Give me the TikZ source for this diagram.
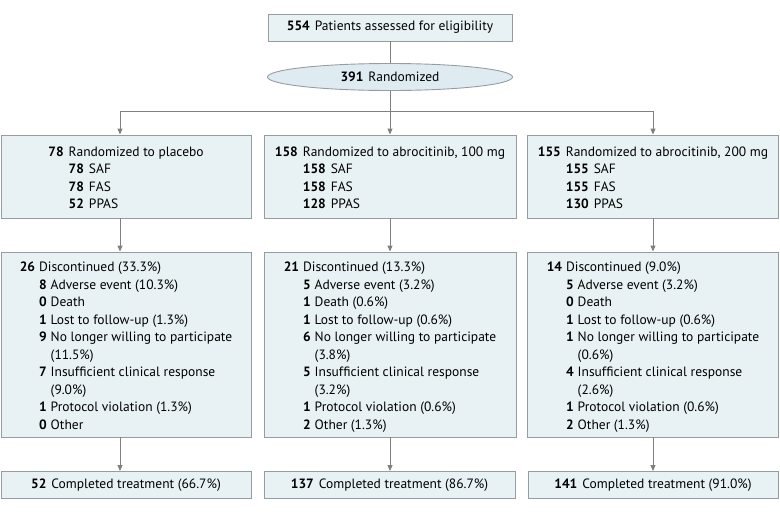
\documentclass[tikz,border=0pt]{standalone}
\usepackage{fontspec}
\setmainfont{PT Sans}
\usepackage{tikz}
\usetikzlibrary{arrows.meta,shapes.geometric,calc}
\definecolor{boxfill}{RGB}{232,242,245}
\definecolor{ovalfill}{RGB}{222,236,241}
\definecolor{boxline}{RGB}{150,157,161}
\definecolor{flowline}{RGB}{128,128,128}

\tikzset{
  box/.style={draw=boxline, fill=boxfill, inner sep=0pt, line width=0.9pt},
  oval/.style={ellipse, draw=boxline, fill=ovalfill, inner sep=0pt, line width=0.9pt},
  flow/.style={draw=flowline, line width=0.9pt, -{Triangle[length=6pt,width=5pt]}},
  link/.style={draw=flowline, line width=0.9pt}
}
% pushes a box's text a little down
\newcommand{\toprow}{\rule{0pt}{17.5pt}}

\begin{document}
\begin{tikzpicture}[x=1pt, y=-1pt, font=\fontsize{13.5}{17.5}\selectfont]
    \useasboundingbox (0,0) rectangle (780,512);

    % Screening and randomization
    \node[box, minimum width=244, minimum height=27] (screen) at (390,27.5)
      {\textbf{554}\hspace{5pt}Patients assessed for eligibility};
    \node[oval, minimum width=245, minimum height=27] (rand) at (390,77)
      {\textbf{391}\hspace{5pt}Randomized};

    % Allocation
    \node[box, minimum width=250, minimum height=83] (armA) at (126,176.5)
      {\begin{tabular}{@{}r@{\hspace{5pt}}r@{\hspace{5pt}}l@{}}
        \toprow\textbf{78} & \multicolumn{2}{@{}l@{}}{Randomized to placebo}\\
        & \textbf{78} & SAF\\
        & \textbf{78} & FAS\\
        & \textbf{52} & PPAS
      \end{tabular}};
    \node[box, minimum width=252, minimum height=83] (armB) at (390,176.5)
      {\begin{tabular}{@{}r@{\hspace{5pt}}r@{\hspace{5pt}}l@{}}
        \toprow\textbf{158} & \multicolumn{2}{@{}l@{}}{Randomized to abrocitinib, 100 mg}\\
        & \textbf{158} & SAF\\
        & \textbf{158} & FAS\\
        & \textbf{128} & PPAS
      \end{tabular}};
    \node[box, minimum width=251, minimum height=83] (armC) at (653,176.5)
      {\begin{tabular}{@{}r@{\hspace{5pt}}r@{\hspace{5pt}}l@{}}
        \toprow\textbf{155} & \multicolumn{2}{@{}l@{}}{Randomized to abrocitinib, 200 mg}\\
        & \textbf{155} & SAF\\
        & \textbf{155} & FAS\\
        & \textbf{130} & PPAS
      \end{tabular}};

    % Discontinuation
    \node[box, minimum width=250, minimum height=185] (discA) at (126,344.5)
      {\begin{tabular}{@{}r@{\hspace{4pt}}r@{\hspace{4pt}}l@{}}
        \toprow\textbf{26} & \multicolumn{2}{@{}l@{}}{Discontinued (33.3\%)}\\
        & \textbf{8} & Adverse event (10.3\%)\\
        & \textbf{0} & Death\\
        & \textbf{1} & Lost to follow-up (1.3\%)\\
        & \textbf{9} & No longer willing to participate\\
        & & (11.5\%)\\
        & \textbf{7} & Insufficient clinical response\\
        & & (9.0\%)\\
        & \textbf{1} & Protocol violation (1.3\%)\\
        & \textbf{0} & Other
      \end{tabular}};
    \node[box, minimum width=252, minimum height=185] (discB) at (390,344.5)
      {\begin{tabular}{@{}r@{\hspace{4pt}}r@{\hspace{4pt}}l@{}}
        \toprow\textbf{21} & \multicolumn{2}{@{}l@{}}{Discontinued (13.3\%)}\\
        & \textbf{5} & Adverse event (3.2\%)\\
        & \textbf{1} & Death (0.6\%)\\
        & \textbf{1} & Lost to follow-up (0.6\%)\\
        & \textbf{6} & No longer willing to participate\\
        & & (3.8\%)\\
        & \textbf{5} & Insufficient clinical response\\
        & & (3.2\%)\\
        & \textbf{1} & Protocol violation (0.6\%)\\
        & \textbf{2} & Other (1.3\%)
      \end{tabular}};
    \node[box, minimum width=251, minimum height=185] (discC) at (653,344.5)
      {\begin{tabular}{@{}r@{\hspace{4pt}}r@{\hspace{4pt}}l@{}}
        \toprow\textbf{14} & \multicolumn{2}{@{}l@{}}{Discontinued (9.0\%)}\\
        & \textbf{5} & Adverse event (3.2\%)\\
        & \textbf{0} & Death\\
        & \textbf{1} & Lost to follow-up (0.6\%)\\
        & \textbf{1} & No longer willing to participate\\
        & & (0.6\%)\\
        & \textbf{4} & Insufficient clinical response\\
        & & (2.6\%)\\
        & \textbf{1} & Protocol violation (0.6\%)\\
        & \textbf{2} & Other (1.3\%)
      \end{tabular}};

    % Completion
    \node[box, minimum width=250, minimum height=27] (doneA) at (126,485)
      {\textbf{52}\hspace{5pt}Completed treatment (66.7\%)};
    \node[box, minimum width=251, minimum height=27] (doneB) at (389.5,485)
      {\textbf{137}\hspace{5pt}Completed treatment (86.7\%)};
    \node[box, minimum width=250, minimum height=27] (doneC) at (653,485)
      {\textbf{141}\hspace{5pt}Completed treatment (91.0\%)};

    % Connectors
    \coordinate (busA) at (120,111);
    \coordinate (busC) at (653,111);
    \draw[link] (screen) -- (rand);
    \draw[link] (rand.south) -- (rand.south |- busA);
    \draw[link] (busA) -- (busC);
    \draw[flow] (busA) -- (busA |- armA.north);
    \draw[flow] (rand.south) -- (armB.north);
    \draw[flow] (busC) -- (busC |- armC.north);

    \draw[flow] (busA |- armA.south) -- (busA |- discA.north);
    \draw[flow] (armB.south) -- (discB.north);
    \draw[flow] (busC |- armC.south) -- (busC |- discC.north);

    \draw[flow] (busA |- discA.south) -- (busA |- doneA.north);
    \draw[flow] (discB.south) -- (discB.south |- doneB.north);
    \draw[flow] (busC |- discC.south) -- (busC |- doneC.north);
  \end{tikzpicture}
\end{document}
